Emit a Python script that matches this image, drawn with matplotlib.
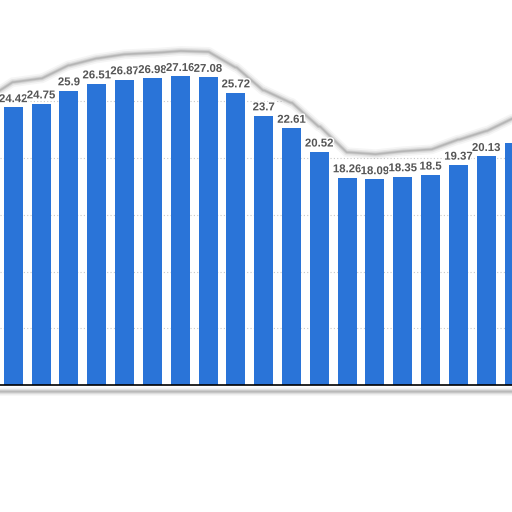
import numpy as np
import matplotlib
matplotlib.use("Agg")
import matplotlib.pyplot as plt
import matplotlib.patheffects as pe

# Data (visible part of a cropped bar chart)
values = [22.9, 24.42, 24.75, 25.9, 26.51, 26.87, 26.98, 27.16, 27.08, 25.72,
          23.7, 22.61, 20.52, 18.26, 18.09, 18.35, 18.5, 19.37, 20.13, 21.27]
labels = ["22.9", "24.42", "24.75", "25.9", "26.51", "26.87", "26.98", "27.16", "27.08", "25.72",
          "23.7", "22.61", "20.52", "18.26", "18.09", "18.35", "18.5", "19.37", "20.13", "21.27"]
grid_levels = [5, 10, 15, 20, 25]

bar_color = "#2a74d8"
fig = plt.figure(figsize=(5.12, 5.12), dpi=100)
ax = fig.add_axes([0, 0, 1, 1])
x = np.arange(len(values))
ax.bar(x, values, width=0.683, color=bar_color, zorder=2)

for xi, v, lab in zip(x, values, labels):
    ax.annotate(lab, (xi, v), xytext=(0, 3.8), textcoords="offset points",
                ha="center", va="baseline", fontsize=8.2, fontweight="bold",
                family="Liberation Sans", color="#555555", zorder=6,
                path_effects=[pe.withStroke(linewidth=2, foreground="white")])

for g in grid_levels:
    ax.axhline(g, color="#c8c8c8", lw=0.8, ls=(0, (1, 2)), zorder=1)

ax.axhline(0, color="black", lw=1.2, zorder=4)

# sticker-like silhouette: white above an envelope that follows the labels
xs = np.linspace(-1, len(values), 2000)
idx = np.clip(np.round(xs).astype(int), 0, len(values) - 1)
step = np.array(values)[idx] + 2.1
k = 45
env = np.convolve(np.pad(step, k, mode="edge"), np.ones(2 * k + 1) / (2 * k + 1), mode="same")[k:-k]
ax.fill_between(xs, env, 60, color="white", zorder=5)
for lw, a in [(7, 0.08), (4.5, 0.14), (2.5, 0.22), (1.2, 0.3)]:
    ax.plot(xs, env + 0.12, color="#808080", lw=lw, alpha=a, zorder=5, solid_capstyle="round")

# bottom edge shadow
ax.fill_between(xs, -30, -0.5, color="white", zorder=5)
for lw, a in [(6, 0.08), (4, 0.14), (2.5, 0.2), (1.2, 0.28)]:
    ax.plot(xs, np.full_like(xs, -0.55), color="#808080", lw=lw, alpha=a, zorder=5)

ax.set_xlim(0.522, 18.926)
ax.set_ylim(-11.13, 33.86)
ax.axis("off")
fig.savefig("out.png", dpi=100, facecolor="white")
